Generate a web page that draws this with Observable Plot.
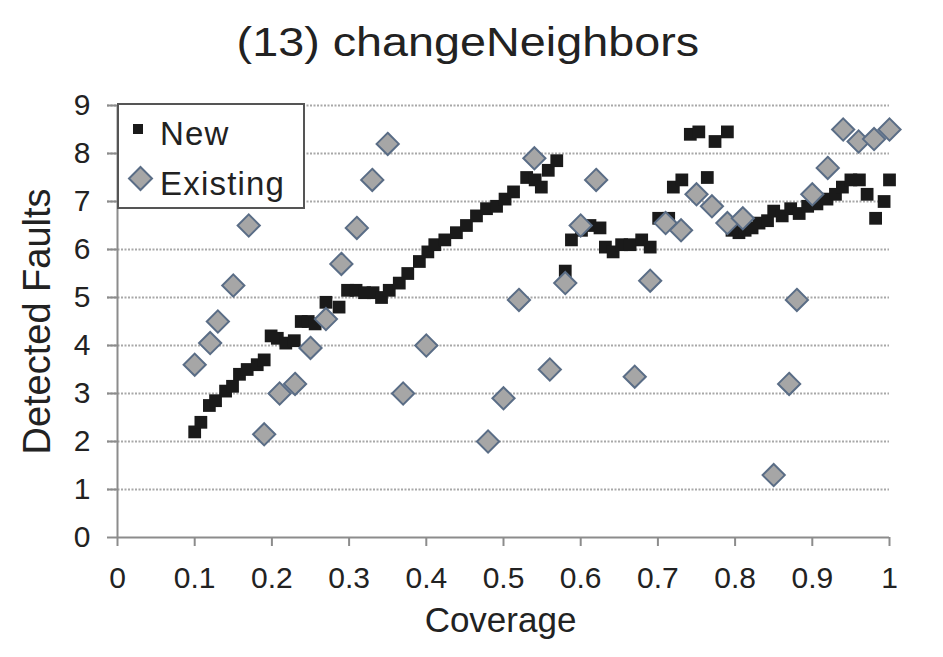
<!DOCTYPE html>
<html>
<head>
<meta charset="utf-8">
<script src="https://cdn.jsdelivr.net/npm/d3@7"></script>
<script src="https://cdn.jsdelivr.net/npm/@observablehq/plot@0.6"></script>
<style>
  html, body { margin: 0; padding: 0; background: #fff; }
  #wrap { position: relative; width: 943px; height: 657px; overflow: hidden; font-family: "Liberation Sans", Arial, sans-serif; color: #222; }
  #title { height: 80px; box-sizing: border-box; padding-top: 21px; font-size: 41px; line-height: 42px; text-align: center; width: 936px; white-space: nowrap; }
  #title span { display: inline-block; transform: scaleX(1.14); transform-origin: center; }
  #legend { position: absolute; left: 117px; top: 103px; }
  svg { display: block; }
</style>
</head>
<body>
<div id="wrap">
  <div id="title"><span>(13) changeNeighbors</span></div>
  <div id="chart"></div>
  <svg id="legend" width="188" height="106"></svg>
</div>
<script>
// ---- data ----
const newCoverage = [0.100,0.108,0.119,0.127,0.140,0.149,0.158,0.168,0.181,0.190,0.199,0.207,0.218,0.229,0.238,0.247,0.256,0.270,0.287,0.298,0.309,0.320,0.331,0.342,0.352,0.365,0.376,0.391,0.402,0.411,0.424,0.439,0.452,0.465,0.478,0.491,0.502,0.513,0.530,0.541,0.549,0.558,0.569,0.580,0.588,0.601,0.612,0.625,0.632,0.642,0.653,0.664,0.679,0.690,0.701,0.714,0.720,0.731,0.742,0.753,0.764,0.774,0.790,0.796,0.805,0.813,0.822,0.831,0.842,0.850,0.861,0.872,0.883,0.894,0.906,0.919,0.930,0.939,0.950,0.961,0.971,0.982,0.993,1.000];
const newFaults = [2.2,2.4,2.75,2.85,3.05,3.15,3.4,3.5,3.6,3.7,4.2,4.15,4.05,4.1,4.5,4.5,4.45,4.9,4.8,5.15,5.15,5.1,5.1,5.0,5.15,5.3,5.5,5.75,5.95,6.1,6.2,6.35,6.5,6.7,6.85,6.9,7.05,7.2,7.5,7.45,7.3,7.65,7.85,5.55,6.2,6.4,6.5,6.45,6.05,5.95,6.1,6.1,6.2,6.05,6.65,6.65,7.3,7.45,8.4,8.45,7.5,8.25,8.45,6.4,6.35,6.4,6.45,6.55,6.6,6.8,6.7,6.85,6.75,6.9,6.95,7.05,7.15,7.3,7.45,7.45,7.15,6.65,7.0,7.45];
const existingCoverage = [0.10,0.12,0.13,0.15,0.17,0.19,0.21,0.23,0.25,0.27,0.29,0.31,0.33,0.35,0.37,0.40,0.48,0.50,0.52,0.54,0.56,0.58,0.60,0.62,0.67,0.69,0.71,0.73,0.75,0.77,0.79,0.81,0.85,0.87,0.88,0.90,0.92,0.94,0.96,0.98,1.00];
const existingFaults = [3.6,4.05,4.5,5.25,6.5,2.15,3.0,3.2,3.95,4.55,5.7,6.45,7.45,8.2,3.0,4.0,2.0,2.9,4.95,7.9,3.5,5.3,6.5,7.45,3.35,5.35,6.55,6.4,7.15,6.9,6.55,6.65,1.3,3.2,4.95,7.15,7.7,8.5,8.25,8.3,8.5];
const xTicks = [0,0.1,0.2,0.3,0.4,0.5,0.6,0.7,0.8,0.9,1];
const xTickLabels = ["0","0.1","0.2","0.3","0.4","0.5","0.6","0.7","0.8","0.9","1"];
const yTicks = [0,1,2,3,4,5,6,7,8,9];
const seriesNames = ["New","Existing"];
const xTitle = "Coverage";
const yTitle = "Detected Faults";

const newData = newCoverage.map((c, i) => ({coverage: c, faults: newFaults[i]}));
const existingData = existingCoverage.map((c, i) => ({coverage: c, faults: existingFaults[i]}));

const squareDiamond = {
  draw(ctx, size) {
    const r = Math.sqrt(size) * 0.62625;
    ctx.moveTo(0, -r); ctx.lineTo(r, 0); ctx.lineTo(0, r); ctx.lineTo(-r, 0); ctx.closePath();
  }
};

const plot = Plot.plot({
  width: 943,
  height: 577,
  marginTop: 25,
  marginBottom: 120,
  marginLeft: 117,
  marginRight: 54,
  style: {fontFamily: "'Liberation Sans', Arial, sans-serif", fontSize: "30px", color: "#222", background: "transparent"},
  x: {domain: [0, 1], ticks: xTicks},
  y: {domain: [0, 9], ticks: yTicks},
  marks: [
    Plot.ruleY(yTicks.filter(d => d > 0), {stroke: "#a8a8a8", strokeWidth: 2, strokeDasharray: "2,1.5", insetLeft: -10}),
    Plot.ruleY([0], {stroke: "#8c8c8c", strokeWidth: 2}),
    Plot.ruleX([0], {stroke: "#8c8c8c", strokeWidth: 2}),
    Plot.axisY({ticks: yTicks, tickSize: 10, tickPadding: 17, fontSize: 30, stroke: "#8c8c8c", strokeWidth: 2, label: null}),
    Plot.axisX({ticks: xTicks, tickSize: 9, tickPadding: 20, fontSize: 30, stroke: "#8c8c8c", strokeWidth: 2, tickFormat: (d, i) => xTickLabels[i], label: null}),
    Plot.text([yTitle], {frameAnchor: "left", textAnchor: "middle", dx: -79.5, rotate: -90, fontSize: 38, ariaLabel: "ytitle", fill: "#222"}),
    Plot.text([xTitle], {frameAnchor: "bottom", textAnchor: "middle", dy: 94, dx: -3, fontSize: 35, ariaLabel: "xtitle", fill: "#222"}),
    Plot.dot(newData, {x: "coverage", y: "faults", symbol: "square", r: 7.2, fill: "#1a1a1a", stroke: "none"}),
    Plot.dot(existingData, {x: "coverage", y: "faults", symbol: squareDiamond, r: 10, fill: "#a6a6a6", stroke: "#5a6d86", strokeWidth: 2})
  ]
});
document.getElementById("chart").appendChild(plot);
d3.select(plot).selectAll('g[aria-label="ytitle"] text').style("letter-spacing", "1.4px");
d3.select(plot).selectAll('g[aria-label="xtitle"] text').style("letter-spacing", "1.8px");

// legend
const lg = d3.select("#legend");
lg.append("rect").attr("x", 1).attr("y", 1).attr("width", 186).attr("height", 104)
  .attr("fill", "#fff").attr("stroke", "#555").attr("stroke-width", 2);
lg.append("rect").attr("x", 16).attr("y", 21).attr("width", 10).attr("height", 10).attr("fill", "#1a1a1a");
lg.append("path").attr("d", "M23.5,64 L35,75.5 L23.5,87 L12,75.5 Z")
  .attr("fill", "#a6a6a6").attr("stroke", "#5a6d86").attr("stroke-width", 2);
lg.append("text").attr("x", 43).attr("y", 42).text(seriesNames[0])
  .style("font-family", "'Liberation Sans', Arial, sans-serif").style("font-size", "33px").style("letter-spacing", "1.2px").attr("fill", "#222");
lg.append("text").attr("x", 43).attr("y", 92).text(seriesNames[1])
  .style("font-family", "'Liberation Sans', Arial, sans-serif").style("font-size", "33px").style("letter-spacing", "1.2px").attr("fill", "#222");
</script>
</body>
</html>
